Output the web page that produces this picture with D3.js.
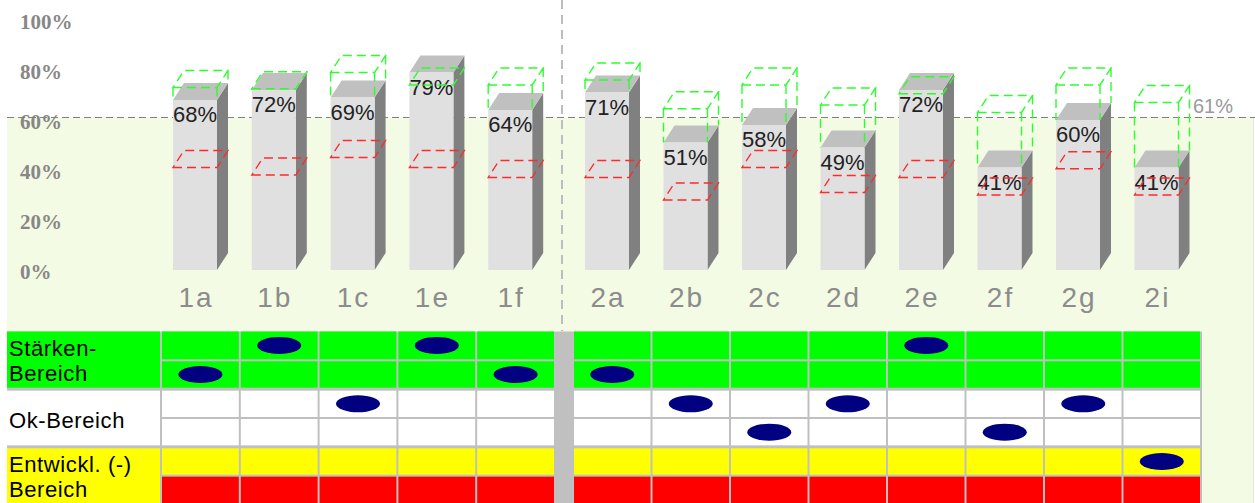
<!DOCTYPE html>
<html>
<head>
<meta charset="utf-8">
<script src="https://cdn.jsdelivr.net/npm/d3@7"></script>
<style>
  body { margin: 0; background: #ffffff; }
  svg { display: block; }
</style>
</head>
<body>
<svg id="chart" width="1255" height="503"></svg>
<script>
// ---- data ----
const categories  = ["1a", "1b", "1c", "1e", "1f", "2a", "2b", "2c", "2d", "2e", "2f", "2g", "2i"];
const sections    = ["1", "1", "1", "1", "1", "2", "2", "2", "2", "2", "2", "2", "2"];
const scores      = [68, 72, 69, 79, 64, 71, 51, 58, 49, 72, 41, 60, 41];
const upperLimits = [73, 72.5, 79, 74, 74, 76, 64.5, 74, 66, 70.5, 63, 74, 67];
const lowerLimits = [41, 38, 45, 41, 37, 37, 28, 41, 31, 37, 30, 40.5, 30];
const ratingRows  = [1, 0, 2, 0, 1, 1, 2, 3, 2, 0, 3, 2, 4];
const average     = 61;
const yTicks      = [0, 20, 40, 60, 80, 100];
const bandLabels  = [["Stärken-", "Bereich"], ["Ok-Bereich"], ["Entwickl. (-)", "Bereich"]];

// ---- styling ----
const rowFills   = ["#00ff00", "#00ff00", "#ffffff", "#ffffff", "#ffff00", "#ff0000"];
const bandFills  = ["#00ff00", "#ffffff", "#ffff00"];
const gridColor  = "#c0c0c0";
const depthX = 11, depthY = 17, barWidth = 44, barInset = 12;

const svg = d3.select("#chart");

// ---- scales ----
const y = d3.scaleLinear().domain([0, 100]).range([270, 20]);
const cats1 = categories.filter((c, i) => sections[i] === "1");
const cats2 = categories.filter((c, i) => sections[i] === "2");
const xA = d3.scaleBand().domain(cats1).range([161, 555]);
const xB = d3.scaleBand().domain(cats2).range([573, 1201]);
const colX = c => cats1.includes(c) ? xA(c) : xB(c);
const colW = c => cats1.includes(c) ? xA.bandwidth() : xB.bandwidth();
const rows = d3.scaleBand().domain(d3.range(6)).range([331.5, 504.5]);

const data = categories.map((c, i) => ({
  cat: c, score: scores[i], upper: upperLimits[i], lower: lowerLimits[i], row: ratingRows[i]
}));

// ---- background below the average line ----
svg.append("rect")
  .attr("x", 7).attr("y", y(average))
  .attr("width", 1246).attr("height", 503 - y(average))
  .attr("fill", "#f4fbe4");
svg.append("line")
  .attr("x1", 1253.5).attr("x2", 1253.5).attr("y1", y(average)).attr("y2", 503)
  .attr("stroke", "#e3ead6").attr("stroke-width", 1);

// ---- y axis labels ----
svg.append("g").selectAll("text").data(yTicks).join("text")
  .attr("x", 20).attr("y", d => y(d) + 8.5)
  .attr("font-family", "'Liberation Serif', 'Times New Roman', serif")
  .attr("font-weight", "bold").attr("font-size", 21)
  .attr("fill", "#878787")
  .text(d => d + "%");

// ---- section divider ----
svg.append("line")
  .attr("x1", 562).attr("x2", 562).attr("y1", 0).attr("y2", 331)
  .attr("stroke", "#bdbdbd").attr("stroke-width", 2)
  .attr("stroke-dasharray", "9,6");

// ---- average line ----
svg.append("line")
  .attr("x1", 7).attr("x2", 1255).attr("y1", y(average)).attr("y2", y(average))
  .attr("stroke", "#808080").attr("stroke-width", 1.2)
  .attr("stroke-dasharray", "7,4");
svg.append("text")
  .attr("x", 1193).attr("y", y(average) - 4.5)
  .attr("font-family", "'Liberation Sans', Arial, sans-serif")
  .attr("font-size", 20).attr("fill", "#9a9a9a")
  .text(average + "%");

// ---- 3D bars ----
const bars = svg.append("g").selectAll("g").data(data).join("g");
const fl = d => colX(d.cat) + barInset;

bars.append("path") // side face
  .attr("d", d => {
    const x = fl(d) + barWidth, yt = y(d.score), yb = y(0);
    return `M${x},${yt}L${x + depthX},${yt - depthY}L${x + depthX},${yb - depthY}L${x},${yb}Z`;
  })
  .attr("fill", "#808080");
bars.append("path") // top face
  .attr("d", d => {
    const x = fl(d), yt = y(d.score);
    return `M${x},${yt}L${x + depthX},${yt - depthY}L${x + barWidth + depthX},${yt - depthY}L${x + barWidth},${yt}Z`;
  })
  .attr("fill", "#c0c0c0");
bars.append("rect") // front face
  .attr("x", fl).attr("y", d => y(d.score))
  .attr("width", barWidth).attr("height", d => y(0) - y(d.score))
  .attr("fill", "#e0e0e0");

// value labels
bars.append("text")
  .attr("x", d => fl(d) + barWidth / 2).attr("y", d => y(d.score) + 22)
  .attr("text-anchor", "middle")
  .attr("font-family", "'Liberation Sans', Arial, sans-serif")
  .attr("font-size", 22).attr("fill", "#222222")
  .text(d => d.score + "%");

// ---- target range outlines ----
const slab = (x, yy) =>
  `M${x},${yy}L${x + barWidth},${yy}L${x + barWidth + depthX},${yy - depthY}L${x + depthX},${yy - depthY}Z`;

bars.append("path") // upper (strength) limit
  .attr("d", d => {
    const x = fl(d), yg = y(d.upper), yv = y(d.score);
    let p = slab(x, yg);
    if (d.upper > d.score) {
      p += `M${x},${yg}V${yv}M${x + barWidth},${yg}V${yv}M${x + barWidth + depthX},${yg - depthY}V${yv - depthY}`;
    }
    return p;
  })
  .attr("fill", "none").attr("stroke", "#2bff2b").attr("stroke-width", 1.4)
  .attr("stroke-dasharray", "9,5");

bars.append("path") // lower (development) limit
  .attr("d", d => slab(fl(d), y(d.lower)))
  .attr("fill", "none").attr("stroke", "#ff2a2a").attr("stroke-width", 1.3)
  .attr("stroke-dasharray", "9,5");

// category labels
bars.append("text")
  .attr("x", d => fl(d) + barWidth / 2 + 1).attr("y", 306.5)
  .attr("text-anchor", "middle")
  .attr("font-family", "'Liberation Sans', Arial, sans-serif")
  .attr("font-size", 28).attr("fill", "#8c8c8c")
  .attr("letter-spacing", 2)
  .text(d => d.cat);

// ---- rating table ----
const table = svg.append("g");
const tableTop = rows(0), tableBottom = 503;
table.append("rect")
  .attr("x", 7).attr("y", tableTop)
  .attr("width", 1202 - 7).attr("height", tableBottom - tableTop)
  .attr("fill", gridColor);

const edgeW = [0, 2, 3, 2, 3, 2, 2];
const rowEdge = i => rows(0) + i * rows.bandwidth();
const cellTop = i => rowEdge(i) + edgeW[i] / 2;
const cellBottom = i => rowEdge(i + 1) - edgeW[i + 1] / 2;

// label column
bandLabels.forEach((lines, g) => {
  const top = cellTop(g * 2), bottom = cellBottom(g * 2 + 1);
  table.append("rect")
    .attr("x", 7).attr("y", top).attr("width", 153).attr("height", bottom - top)
    .attr("fill", bandFills[g]);
  const t = table.append("text")
    .attr("font-family", "'Liberation Sans', Arial, sans-serif")
    .attr("font-size", 22).attr("fill", "#000000")
    .attr("letter-spacing", 0.6);
  const baselines = lines.length === 2 ? [top + 24, top + 49] : [top + 37];
  lines.forEach((s, k) => t.append("tspan").attr("x", 9).attr("y", baselines[k]).text(s));
});

// data cells
categories.forEach(c => {
  d3.range(6).forEach(r => {
    table.append("rect")
      .attr("x", colX(c) + 1).attr("y", cellTop(r))
      .attr("width", colW(c) - 2).attr("height", cellBottom(r) - cellTop(r))
      .attr("fill", rowFills[r]);
  });
});

// rating markers
table.selectAll("ellipse").data(data).join("ellipse")
  .attr("cx", d => colX(d.cat) + colW(d.cat) / 2)
  .attr("cy", d => (cellTop(d.row) + cellBottom(d.row)) / 2)
  .attr("rx", 22).attr("ry", 8.5)
  .attr("fill", "#000080");
</script>
</body>
</html>
